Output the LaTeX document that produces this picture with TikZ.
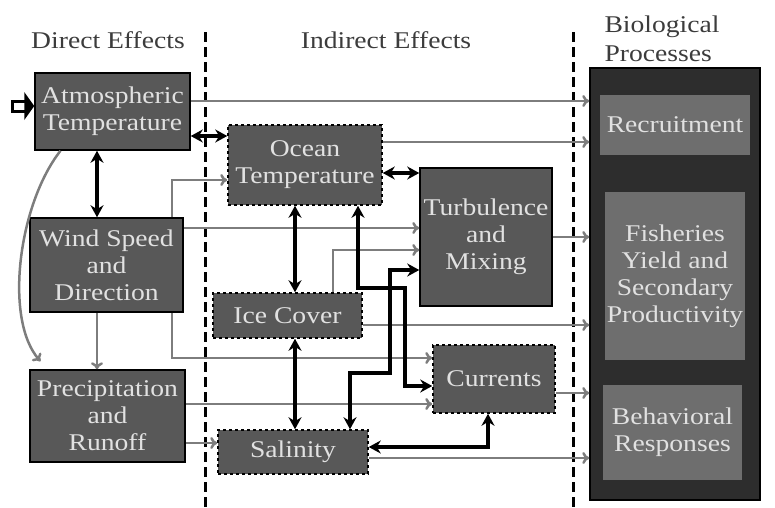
\documentclass[tikz,border=0pt]{standalone}
\usepackage{fontspec}
\setmainfont{Liberation Serif}[FakeStretch=1.15]
\usetikzlibrary{arrows.meta,positioning}
\definecolor{boxgray}{RGB}{88,88,88}
\definecolor{biodark}{RGB}{45,45,45}
\definecolor{biogray}{RGB}{110,110,110}
\definecolor{linkgray}{RGB}{125,125,125}
\definecolor{labelgray}{RGB}{225,225,225}
\definecolor{headgray}{RGB}{60,60,60}

\begin{document}
\begin{tikzpicture}[x=1pt,y=-1pt,
  every node/.style={font=\fontsize{24}{27}\selectfont},
  effbox/.style={draw=black, line width=1.5pt, fill=boxgray, text=labelgray, align=center, inner sep=0pt},
  indbox/.style={effbox, dashed},
  bioproc/.style={fill=biogray, text=labelgray, align=center, inner sep=0pt},
  grayarr/.style={draw=linkgray, line width=2.5pt, -{To[length=7pt,width=12pt]}},
  blkarr/.style={line width=3.5pt, {Stealth[length=12pt,width=13pt]}-{Stealth[length=12pt,width=13pt]}},
  divider/.style={line width=3pt, dash pattern=on 10pt off 5pt}]
\useasboundingbox (0,0) rectangle (775,507);

% column dividers and headings
\draw[divider] (205,32) -- (205,507);
\draw[divider] (573,32) -- (573,507);
\node[text=headgray] (direct) at (108,40) {Direct Effects};
\node[text=headgray] (indirect) at (386,40) {Indirect Effects};
\node[text=headgray, align=left, anchor=west] (biohead) at (601,39) {Biological\\[2pt]Processes};

% direct effects
\node[effbox, minimum width=155pt, minimum height=77pt] (atm) at (112.5,111.5) {Atmospheric\\Temperature};
\node[effbox, minimum width=153pt, minimum height=94pt] (wind) at (106.5,265) {Wind Speed\\and\\Direction};
\node[effbox, minimum width=155pt, minimum height=92pt] (precip) at (107.5,416) {Precipitation\\and\\Runoff};

% indirect effects
\node[indbox, minimum width=154pt, minimum height=80pt] (ocean) at (305,165) {Ocean\\Temperature};
\node[indbox, minimum width=149pt, minimum height=45pt] (ice) at (287.5,315.5) {Ice Cover};
\node[indbox, minimum width=150pt, minimum height=44pt] (salin) at (293,452) {Salinity};
\node[effbox, minimum width=132pt, minimum height=138pt] (turb) at (486,237) {Turbulence\\and\\Mixing};
\node[indbox, minimum width=122pt, minimum height=68pt] (curr) at (494,379) {Currents};

% biological processes
\node[draw=black, line width=1.5pt, fill=biodark, minimum width=170pt, minimum height=432pt] (bio) at (675,284) {};
\node[bioproc, minimum width=150pt, minimum height=60pt] (recr) at (675,125) {Recruitment};
\node[bioproc, minimum width=140pt, minimum height=168pt] (fish) at (675,276) {Fisheries\\Yield and\\Secondary\\Productivity};
\node[bioproc, minimum width=139pt, minimum height=95pt] (behav) at (672.5,432.5) {Behavioral\\Responses};

% forcing input
\coordinate (feed) at ([yshift=5.5pt]atm.west);
\filldraw[fill=white, line width=3pt] ([xshift=-22pt,yshift=5pt]feed) rectangle ([xshift=-8pt,yshift=-5pt]feed);
\fill ([xshift=-10pt,yshift=14pt]feed) -- (feed) -- ([xshift=-10pt,yshift=-14pt]feed) -- cycle;

% grey links
\draw[grayarr] ([yshift=10.5pt]atm.east) -- ([yshift=10.5pt]atm.east -| bio.west);
\draw[grayarr] ([yshift=23pt]ocean.east) -- ([yshift=23pt]ocean.east -| bio.west);
\draw[grayarr] (turb.east) -- (turb.east -| bio.west);
\draw[grayarr] ([yshift=-9.5pt]ice.east) -- ([yshift=-9.5pt]ice.east -| bio.west);
\draw[grayarr] ([yshift=-14pt]curr.east) -- ([yshift=-14pt]curr.east -| bio.west);
\draw[grayarr] ([yshift=-6pt]salin.east) -- ([yshift=-6pt]salin.east -| bio.west);
\draw[grayarr] ([xshift=65.5pt]wind.north) |- ([yshift=-15pt]ocean.west);
\draw[grayarr] ([yshift=37pt]wind.east) -- ([yshift=37pt]wind.east -| turb.west);
\draw[grayarr] ([xshift=45.5pt]ice.north) |- ([yshift=-13pt]turb.west);
\draw[grayarr] ([xshift=65.5pt]wind.south) |- ([yshift=21pt]curr.west);
\draw[grayarr] ([xshift=-9.5pt]wind.south) -- ([xshift=-9.5pt]wind.south |- precip.north);
\draw[grayarr] ([xshift=-52pt]atm.south) .. controls (18,205) and (4,320) .. ([xshift=-67pt,yshift=8pt]precip.north);
\draw[grayarr] ([yshift=-27pt]precip.east) -- ([yshift=-27pt]precip.east -| salin.west);
\draw[grayarr] ([yshift=12pt]precip.east) -- ([yshift=12pt]precip.east -| curr.west);

% black feedbacks
\draw[blkarr] ([xshift=-15.5pt]atm.south) -- ([xshift=-15.5pt]atm.south |- wind.north);
\draw[blkarr] ([yshift=-24.5pt]atm.east) -- ([yshift=-24.5pt]atm.east -| ocean.west);
\draw[blkarr] ([yshift=-8pt]ocean.east) -- ([yshift=-8pt]ocean.east -| turb.west);
\draw[blkarr] ([xshift=-10pt]ocean.south) -- ([xshift=-10pt]ocean.south |- ice.north);
\draw[blkarr] ([xshift=7.5pt]ice.south) -- ([xshift=7.5pt]ice.south |- salin.north);
\draw[blkarr] ([xshift=53pt]ocean.south) |- (405,288) |- ([yshift=-7pt]curr.west);
\draw[blkarr] ([yshift=-33pt]turb.west) -| (390,373) -| ([xshift=57pt]salin.north);
\draw[blkarr] ([yshift=5pt]salin.east) -| ([xshift=-6pt]curr.south);
\end{tikzpicture}
\end{document}
